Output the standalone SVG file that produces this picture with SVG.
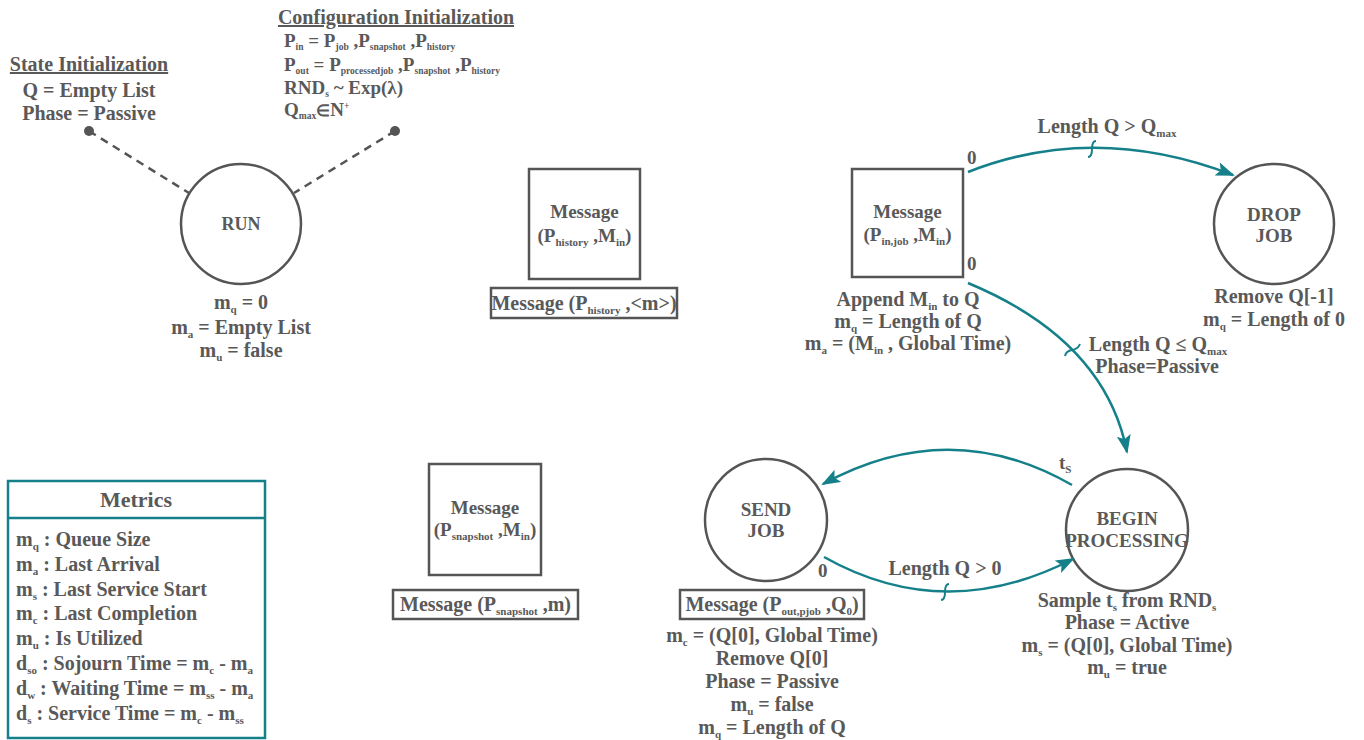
<svg xmlns="http://www.w3.org/2000/svg" width="1364" height="740" viewBox="0 0 1364 740">
<defs>
<style>
text{font-family:"Liberation Serif","Times New Roman",serif;font-weight:bold;fill:#595959;font-size:20px}
.c{text-anchor:middle}
.t19{font-size:19px}
.t18{font-size:18px}
.sb{font-size:11px}
.sc{font-size:9.5px}
.ul{text-decoration:underline}
.node{fill:none;stroke:#555;stroke-width:2.5}
.conn{fill:none;stroke:#15808a;stroke-width:2.5}
.dash{fill:none;stroke:#555;stroke-width:2.5;stroke-dasharray:8 6}
.jump{fill:none;stroke:#15808a;stroke-width:2}
</style>
<marker id="ah" markerUnits="userSpaceOnUse" markerWidth="20" markerHeight="16" refX="17" refY="7" orient="auto">
<path d="M0,0 L19,7 L0,14 L4,7 z" fill="#15808a"/>
</marker>
</defs>
<rect width="1364" height="740" fill="#ffffff"/>

<g id="state-init">
<text class="c ul" x="89" y="71">State Initialization</text>
<text class="c" x="89" y="97">Q = Empty List</text>
<text class="c" x="89" y="120">Phase = Passive</text>
</g>

<g id="config-init">
<text class="c ul" x="396" y="24">Configuration Initialization</text>
<text class="t19" x="284" y="47">P<tspan class="sc" dy="3">in</tspan><tspan dy="-3"> = P</tspan><tspan class="sc" dy="3">job</tspan><tspan dy="-3"> ,P</tspan><tspan class="sc" dy="3">snapshot</tspan><tspan dy="-3"> ,P</tspan><tspan class="sc" dy="3">history</tspan></text>
<text class="t19" x="284" y="71">P<tspan class="sc" dy="3">out</tspan><tspan dy="-3"> = P</tspan><tspan class="sc" dy="3">processedjob</tspan><tspan dy="-3"> ,P</tspan><tspan class="sc" dy="3">snapshot</tspan><tspan dy="-3"> ,P</tspan><tspan class="sc" dy="3">history</tspan></text>
<text class="t19" x="284" y="94">RND<tspan class="sc" dy="3">s</tspan><tspan dy="-3"> ~ Exp(λ)</tspan></text>
<text class="t19" x="284" y="116">Q<tspan class="sc" dy="3">max</tspan><tspan dy="-3" style="font-size:16px">∈</tspan><tspan dy="0">N</tspan><tspan class="sc" dy="-7">+</tspan></text>
</g>

<g id="run">
<circle class="node" cx="241" cy="224" r="60"/>
<text class="c t18" x="241" y="230">RUN</text>
<text class="c" x="241" y="309">m<tspan class="sb" dy="4">q</tspan><tspan dy="-4"> = 0</tspan></text>
<text class="c" x="241" y="334">m<tspan class="sb" dy="4">a</tspan><tspan dy="-4"> = Empty List</tspan></text>
<text class="c" x="241" y="357">m<tspan class="sb" dy="4">u</tspan><tspan dy="-4"> = false</tspan></text>
</g>

<g id="msg-history">
<rect class="node" x="529" y="169" width="111" height="110"/>
<text class="c t19" x="584.5" y="218">Message</text>
<text class="c t19" x="584.5" y="242">(P<tspan class="sb" dy="4">history</tspan><tspan dy="-4"> ,M</tspan><tspan class="sb" dy="4">in</tspan><tspan dy="-4">)</tspan></text>
<rect class="node" x="491" y="288" width="186" height="30"/>
<text class="c" x="584" y="310">Message (P<tspan class="sb" dy="4">history</tspan><tspan dy="-4"> ,&lt;m&gt;)</tspan></text>
</g>

<g id="msg-job">
<rect class="node" x="852" y="169" width="111" height="108"/>
<text class="c t19" x="907.5" y="218">Message</text>
<text class="c t19" x="907.5" y="241">(P<tspan class="sb" dy="4">in,job</tspan><tspan dy="-4"> ,M</tspan><tspan class="sb" dy="4">in</tspan><tspan dy="-4">)</tspan></text>
<text class="c" x="908" y="306">Append M<tspan class="sb" dy="4">in</tspan><tspan dy="-4"> to Q</tspan></text>
<text class="c" x="908" y="328">m<tspan class="sb" dy="4">q</tspan><tspan dy="-4"> = Length of Q</tspan></text>
<text class="c" x="908" y="350">m<tspan class="sb" dy="4">a</tspan><tspan dy="-4"> = (M</tspan><tspan class="sb" dy="4">in</tspan><tspan dy="-4"> , Global Time)</tspan></text>
</g>

<g id="drop-job">
<circle class="node" cx="1274" cy="224" r="60"/>
<text class="c t19" x="1274" y="221">DROP</text>
<text class="c t19" x="1274" y="242">JOB</text>
<text class="c" x="1274" y="303">Remove Q[-1]</text>
<text class="c" x="1274" y="326">m<tspan class="sb" dy="4">q</tspan><tspan dy="-4"> = Length of 0</tspan></text>
</g>

<g id="begin-processing">
<circle class="node" cx="1127" cy="530" r="61"/>
<text class="c t19" x="1127" y="525">BEGIN</text>
<text class="c t19" x="1127" y="547">PROCESSING</text>
<text class="c" x="1127" y="607">Sample t<tspan class="sb" dy="4">s</tspan><tspan dy="-4"> from RND</tspan><tspan class="sb" dy="4">s</tspan></text>
<text class="c" x="1127" y="629">Phase = Active</text>
<text class="c" x="1127" y="652">m<tspan class="sb" dy="4">s</tspan><tspan dy="-4"> = (Q[0], Global Time)</tspan></text>
<text class="c" x="1127" y="674">m<tspan class="sb" dy="4">u</tspan><tspan dy="-4"> = true</tspan></text>
</g>

<g id="send-job">
<circle class="node" cx="766" cy="520" r="61"/>
<text class="c t19" x="766" y="516">SEND</text>
<text class="c t19" x="766" y="537">JOB</text>
<rect class="node" x="680" y="590" width="184" height="29"/>
<text class="c" x="772" y="611">Message (P<tspan class="sb" dy="4">out,pjob</tspan><tspan dy="-4"> ,Q</tspan><tspan class="sb" dy="4">0</tspan><tspan dy="-4">)</tspan></text>
<text class="c" x="772" y="642">m<tspan class="sb" dy="4">c</tspan><tspan dy="-4"> = (Q[0], Global Time)</tspan></text>
<text class="c" x="772" y="665">Remove Q[0]</text>
<text class="c" x="772" y="688">Phase = Passive</text>
<text class="c" x="772" y="711">m<tspan class="sb" dy="4">u</tspan><tspan dy="-4"> = false</tspan></text>
<text class="c" x="772" y="734">m<tspan class="sb" dy="4">q</tspan><tspan dy="-4"> = Length of Q</tspan></text>
</g>

<g id="msg-snapshot">
<rect class="node" x="429" y="464" width="112" height="111"/>
<text class="c t19" x="485" y="514">Message</text>
<text class="c t19" x="485" y="536">(P<tspan class="sb" dy="4">snapshot</tspan><tspan dy="-4"> ,M</tspan><tspan class="sb" dy="4">in</tspan><tspan dy="-4">)</tspan></text>
<rect class="node" x="393" y="590" width="185" height="29"/>
<text class="c" x="485.5" y="611">Message (P<tspan class="sb" dy="4">snapshot</tspan><tspan dy="-4"> ,m)</tspan></text>
</g>

<g id="metrics">
<rect x="8" y="481" width="257" height="257" fill="none" stroke="#15808a" stroke-width="2.5"/>
<line x1="8" y1="518" x2="265" y2="518" stroke="#15808a" stroke-width="2.5"/>
<text class="c" x="136" y="507" style="font-size:22px">Metrics</text>
<text x="16" y="546">m<tspan class="sb" dy="4">q</tspan><tspan dy="-4"> : Queue Size</tspan></text>
<text x="16" y="571">m<tspan class="sb" dy="4">a</tspan><tspan dy="-4"> : Last Arrival</tspan></text>
<text x="16" y="596">m<tspan class="sb" dy="4">s</tspan><tspan dy="-4"> : Last Service Start</tspan></text>
<text x="16" y="620">m<tspan class="sb" dy="4">c</tspan><tspan dy="-4"> : Last Completion</tspan></text>
<text x="16" y="645">m<tspan class="sb" dy="4">u</tspan><tspan dy="-4"> : Is Utilized</tspan></text>
<text x="16" y="670">d<tspan class="sb" dy="4">so</tspan><tspan dy="-4"> : Sojourn Time = m</tspan><tspan class="sb" dy="4">c</tspan><tspan dy="-4"> - m</tspan><tspan class="sb" dy="4">a</tspan></text>
<text x="16" y="695">d<tspan class="sb" dy="4">w</tspan><tspan dy="-4"> : Waiting Time = m</tspan><tspan class="sb" dy="4">ss</tspan><tspan dy="-4"> - m</tspan><tspan class="sb" dy="4">a</tspan></text>
<text x="16" y="720">d<tspan class="sb" dy="4">s</tspan><tspan dy="-4"> : Service Time = m</tspan><tspan class="sb" dy="4">c</tspan><tspan dy="-4"> - m</tspan><tspan class="sb" dy="4">ss</tspan></text>
</g>

<g id="connectors">
<circle cx="89" cy="131" r="5" fill="#555"/>
<line class="dash" x1="89" y1="131" x2="189" y2="193"/>
<circle cx="395" cy="131" r="5" fill="#555"/>
<line class="dash" x1="395" y1="131" x2="294" y2="193"/>

<path class="conn" d="M968,172 Q1095,122 1233,175" marker-end="url(#ah)"/>
<path class="jump" d="M1088,157 q4,0 4,-8 q0,-8 4,-8"/>
<text class="t19" x="967" y="164">0</text>
<text class="c" x="1107" y="133">Length Q &gt; Q<tspan class="sb" dy="4">max</tspan></text>

<path class="conn" d="M968,283 Q1105,340 1127,452" marker-end="url(#ah)"/>
<path class="jump" d="M1065,356 q1,-5 7,-6 q6,-1 8,-6"/>
<text class="t19" x="967" y="270">0</text>
<text class="c" x="1158" y="351">Length Q ≤ Q<tspan class="sb" dy="4">max</tspan></text>
<text class="c" x="1157" y="373">Phase=Passive</text>

<path class="conn" d="M1072,485 Q950,415 823,484" marker-end="url(#ah)"/>
<text class="t19" x="1059" y="469">t<tspan class="sb" dy="4">S</tspan></text>

<path class="conn" d="M824,557 Q945,625 1073,559" marker-end="url(#ah)"/>
<path class="jump" d="M941,600 q4,0 4,-8 q0,-8 4,-8"/>
<text class="t19" x="818" y="577">0</text>
<text class="c" x="945" y="575">Length Q &gt; 0</text>
</g>
</svg>
